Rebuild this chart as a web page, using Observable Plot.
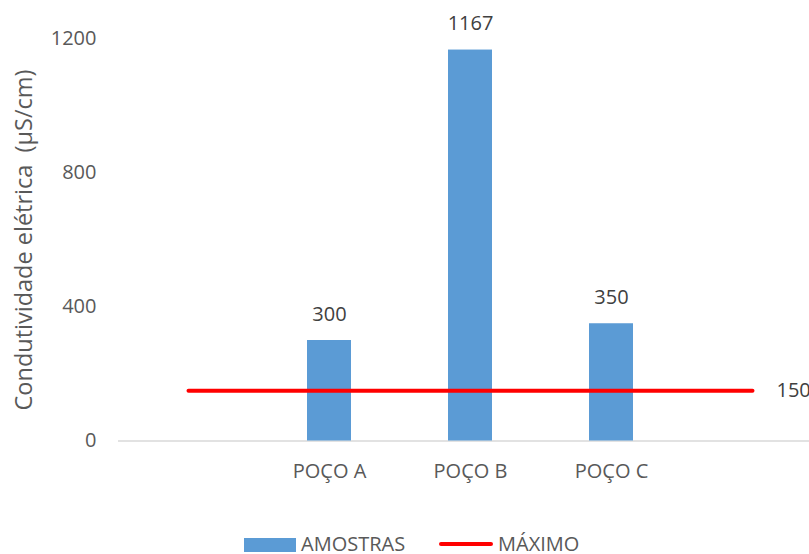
<!DOCTYPE html>
<html>
<head>
<meta charset="utf-8">
<script src="https://cdn.jsdelivr.net/npm/d3@7"></script>
<script src="https://cdn.jsdelivr.net/npm/@observablehq/plot@0.6"></script>
<style>
  body { margin: 0; background: #fff; font-family: "Open Sans", sans-serif; }
  #wrap { position: relative; width: 809px; height: 554px; overflow: hidden; }
  #chart svg { display: block; }
  .legend span { position: absolute; }
  .legend .label { font-size: 20px; line-height: 18px; color: #595959; top: 535px; }
  .swatch-bar { left: 244px; top: 538px; width: 52px; height: 14px; background: #5B9BD5; }
  .swatch-line { left: 439px; top: 542px; width: 54px; height: 4px; background: #FF0000; border-radius: 2px; }
</style>
</head>
<body>
<div id="wrap">
  <div id="chart"></div>
  <div class="legend">
    <span class="swatch-bar"></span><span class="label" style="left:301px">AMOSTRAS</span>
    <span class="swatch-line"></span><span class="label" style="left:498px">MÁXIMO</span>
  </div>
</div>
<script>
// Wells sampled and their measured conductivity
const wells = ["POÇO A", "POÇO B", "POÇO C"];
const amostras = [300, 1167, 350];

// Category slots: an empty slot on each side of the wells carries the limit line
const slots = ["", "POÇO A", "POÇO B", "POÇO C", " "];
const maximo = [150, 150, 150, 150, 150];

const yTicks = [0, 400, 800, 1200];

const bars = wells.map((w, i) => ({slot: w, value: amostras[i]}));
const limit = slots.map((s, i) => ({slot: s, value: maximo[i]}));

const chart = Plot.plot({
  width: 809,
  height: 520,
  marginLeft: 118,
  marginRight: 0,
  marginTop: 38.5,
  marginBottom: 79.5,
  style: {fontFamily: "Open Sans", fontSize: "20px", color: "#595959", background: "#fff"},
  x: {domain: slots, range: [117.5, 822.5], paddingInner: 0.688, paddingOuter: 0.344, label: null},
  y: {domain: [0, 1200], label: null},
  marks: [
    Plot.axisY({ticks: yTicks, tickFormat: d => String(d), tickSize: 0, tickPadding: 22, fill: "#595959", label: null}),
    // rotated y-axis title
    Plot.text(["Condutividade elétrica\u00a0 (µS/cm)"], {
      frameAnchor: "left", textAnchor: "middle", dx: -94, rotate: -90, fontSize: 23.5, fill: "#595959"
    }),
    Plot.axisX({tickSize: 0, tickPadding: 23, fill: "#595959", label: null}),
    Plot.ruleY([0], {stroke: "#D9D9D9", strokeWidth: 1.5}),
    Plot.barY(bars, {x: "slot", y: "value", fill: "#5B9BD5"}),
    Plot.lineY(limit, {x: "slot", y: "value", stroke: "#FF0000", strokeWidth: 4, strokeLinecap: "round"}),
    Plot.text(bars, {x: "slot", y: "value", text: d => String(d.value), dy: -26, fill: "#404040"}),
    Plot.text(limit.slice(-1), {x: "slot", y: "value", text: d => String(d.value), textAnchor: "start", dx: 24, fill: "#404040"})
  ]
});
document.getElementById("chart").appendChild(chart);
</script>
</body>
</html>
